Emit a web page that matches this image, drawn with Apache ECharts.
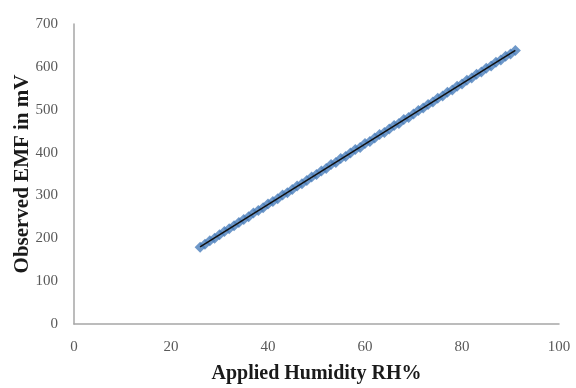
<!DOCTYPE html>
<html><head><meta charset="utf-8">
<script src="https://cdn.jsdelivr.net/npm/echarts@6/dist/echarts.min.js"></script>
<style>html,body{margin:0;padding:0;background:#fff}#c{width:576px;height:388px}</style>
</head><body><div id="c"></div>
<script>
var humidity = [26,27,28,29,30,31,32,33,34,35,36,37,38,39,40,41,42,43,44,45,46,47,48,49,50,51,52,53,54,55,56,57,58,59,60,61,62,63,64,65,66,67,68,69,70,71,72,73,74,75,76,77,78,79,80,81,82,83,84,85,86,87,88,89,90,91];
var emf = [179,186,194,200,208,216,222,229,237,244,250,259,265,271,280,286,292,301,306,314,322,327,335,343,349,357,363,372,377,386,391,399,407,412,421,426,434,442,447,455,463,468,477,482,490,498,504,512,518,527,532,541,546,555,560,569,574,583,588,597,602,611,616,625,630,638];
var xTicks = [0,20,40,60,80,100];
var yTicks = [0,100,200,300,400,500,600,700];

var pts = humidity.map(function(x,i){return [x, emf[i]];});
// least squares trendline
var n = humidity.length, sx=0, sy=0, sxx=0, sxy=0;
for (var i=0;i<n;i++){sx+=humidity[i];sy+=emf[i];sxx+=humidity[i]*humidity[i];sxy+=humidity[i]*emf[i];}
var b = (n*sxy - sx*sy)/(n*sxx - sx*sx), a = (sy - b*sx)/n;
var x0 = humidity[0], x1 = humidity[n-1];
var trend = [[x0, a+b*x0],[x1, a+b*x1]];

var serif = '"Liberation Serif", "DejaVu Serif", serif';
var chart = echarts.init(document.getElementById('c'));
chart.setOption({
  animation:false,
  backgroundColor:'#fff',
  grid:{left:74,right:17,top:24,bottom:64,containLabel:false,outerBoundsMode:'none'},
  xAxis:{type:'value',min:xTicks[0],max:xTicks[xTicks.length-1],interval:20,
    name:'Applied Humidity RH%',nameLocation:'middle',nameGap:40,nameMoveOverlap:false,
    nameTextStyle:{fontFamily:serif,fontWeight:'bold',fontSize:20,color:'#1a1a1a'},
    axisLine:{lineStyle:{color:'#a6a6a6',width:1.5}},axisTick:{show:false},
    axisLabel:{fontFamily:serif,fontSize:15,color:'#595959',margin:16},
    splitLine:{show:false}},
  yAxis:{type:'value',min:yTicks[0],max:yTicks[yTicks.length-1],interval:100,
    name:'Observed EMF in mV',nameLocation:'middle',nameGap:41,nameMoveOverlap:false,
    nameTextStyle:{fontFamily:serif,fontWeight:'bold',fontSize:21,color:'#1a1a1a'},
    axisLine:{show:true,lineStyle:{color:'#a6a6a6',width:1.5}},axisTick:{show:false},
    axisLabel:{fontFamily:serif,fontSize:15,color:'#595959',margin:16},
    splitLine:{show:false}},
  series:[
    {type:'scatter',data:pts,symbol:'diamond',symbolSize:11,
     itemStyle:{color:'#4a7ebb'},z:2},
    {type:'line',data:trend,symbol:'none',lineStyle:{color:'#111',width:1.6},z:3}
  ]
});
</script></body></html>
